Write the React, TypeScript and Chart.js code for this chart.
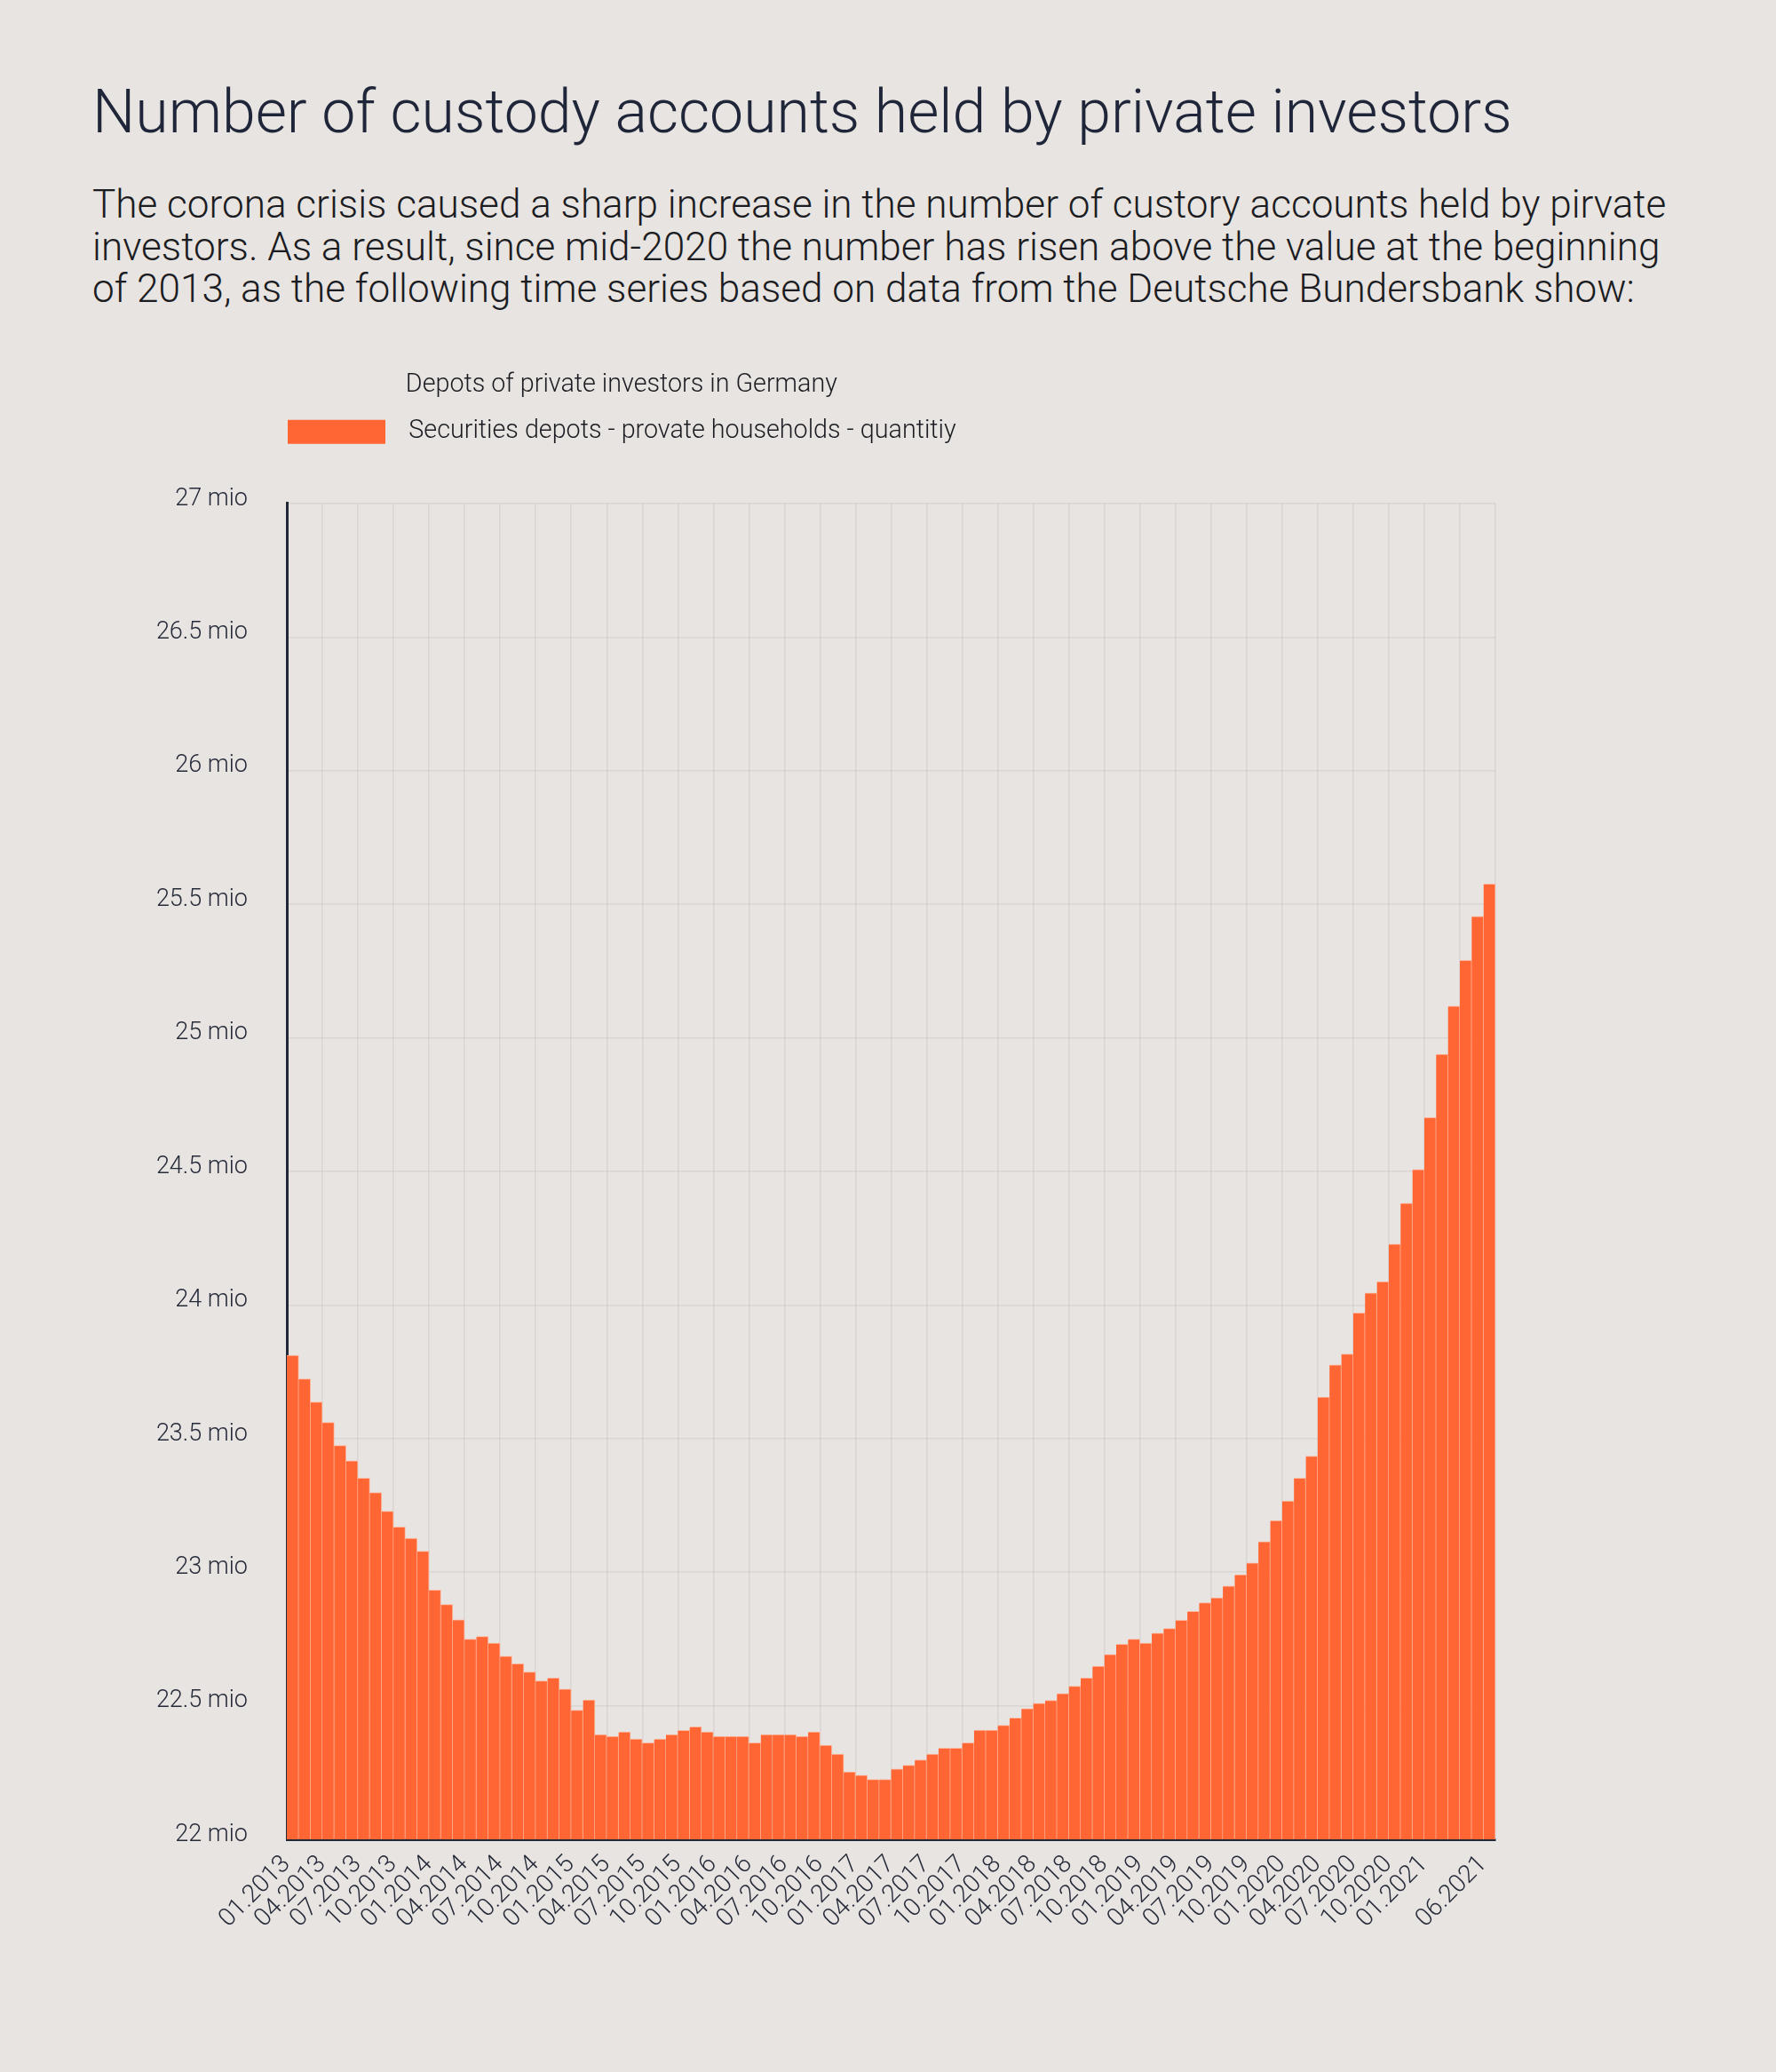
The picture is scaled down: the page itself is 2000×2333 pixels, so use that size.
import React, { useEffect, useRef } from 'react';
import { Chart, registerables } from 'chart.js';

Chart.register(...registerables);

// ---------------- data ----------------
const YEARS = [2013, 2014, 2015, 2016, 2017, 2018, 2019, 2020, 2021];
const MONTHS = ['01', '02', '03', '04', '05', '06', '07', '08', '09', '10', '11', '12'];
const LAST_MONTH_2021 = '06';

const CATEGORIES: string[] = [];
for (const y of YEARS) {
  for (const m of MONTHS) {
    CATEGORIES.push(`${m}.${y}`);
    if (y === 2021 && m === LAST_MONTH_2021) break;
  }
}

// Securities depots of private households, in millions
const DEPOTS_MIO = [
  23.811, 23.723, 23.637, 23.560, 23.474, 23.417, 23.352, 23.298, 23.228, 23.169, 23.127, 23.078, // 2013
  22.933, 22.879, 22.822, 22.749, 22.759, 22.734, 22.685, 22.657, 22.626, 22.593, 22.604, 22.562, // 2014
  22.483, 22.522, 22.392, 22.385, 22.402, 22.375, 22.361, 22.375, 22.392, 22.408, 22.421, 22.402, // 2015
  22.385, 22.385, 22.385, 22.361, 22.392, 22.392, 22.392, 22.385, 22.402, 22.352, 22.319, 22.252, // 2016
  22.240, 22.224, 22.224, 22.263, 22.277, 22.297, 22.319, 22.341, 22.341, 22.361, 22.409, 22.409, // 2017
  22.427, 22.454, 22.489, 22.509, 22.520, 22.546, 22.573, 22.604, 22.648, 22.692, 22.730, 22.749, // 2018
  22.734, 22.772, 22.789, 22.820, 22.853, 22.886, 22.904, 22.948, 22.990, 23.034, 23.114, 23.193, // 2019
  23.266, 23.352, 23.434, 23.655, 23.776, 23.816, 23.970, 24.045, 24.087, 24.228, 24.381, 24.507, // 2020
  24.701, 24.938, 25.119, 25.290, 25.454, 25.576, // 2021
];

const X_TICK_LABELS = [
  '01.2013', '04.2013', '07.2013', '10.2013',
  '01.2014', '04.2014', '07.2014', '10.2014',
  '01.2015', '04.2015', '07.2015', '10.2015',
  '01.2016', '04.2016', '07.2016', '10.2016',
  '01.2017', '04.2017', '07.2017', '10.2017',
  '01.2018', '04.2018', '07.2018', '10.2018',
  '01.2019', '04.2019', '07.2019', '10.2019',
  '01.2020', '04.2020', '07.2020', '10.2020',
  '01.2021', '06.2021',
];

const Y_MIN = 22;
const Y_MAX = 27;
const Y_STEP = 0.5;
const Y_UNIT = 'mio';

const TITLE = 'Number of custody accounts held by private investors';
const SUBTITLE_LINES = [
  'The corona crisis caused a sharp increase in the number of custory accounts held by pirvate',
  'investors. As a result, since mid-2020 the number has risen above the value at the beginning',
  'of 2013, as the following time series based on data from the Deutsche Bundersbank show:',
];
const LEGEND_TITLE = 'Depots of private investors in Germany';
const SERIES_LABEL = 'Securities depots - provate households - quantitiy';

// ---------------- style ----------------
const BG = '#E8E4E1';
const BAR = '#FF6633';
const BAR_EDGE = '#FFB59C';
const TITLE_COLOR = '#1F2639';
const TEXT_COLOR = '#1B1C22';
const AXIS_TEXT = '#262B3A';
const AXIS_LINE = '#232837';
const GRID = 'rgba(60,40,40,0.075)';
const FONT = 'Roboto, "Noto Sans", sans-serif';

const CANVAS_TOP = 370;
const CANVAS_W = 2000;
const CANVAS_H = 2333 - CANVAS_TOP;

const PAD_LEFT = 100;
const PLOT_LEFT = 323;
const LEGEND_BOX_W = 110;
const LEGEND_BOX_GAP = 12;
const LEGEND_FONT = 28.7;

export default function App() {
  const canvasRef = useRef<HTMLCanvasElement | null>(null);

  useEffect(() => {
    document.body.style.margin = '0';
    document.body.style.background = BG;
    const canvas = canvasRef.current;
    if (!canvas) return;
    const shown = new Set(X_TICK_LABELS);
    const ctx2d = canvas.getContext('2d')!;
    const boxX = PLOT_LEFT + 1;
    const grad = ctx2d.createLinearGradient(boxX, 0, boxX + LEGEND_BOX_W + LEGEND_BOX_GAP, 0);
    const stop = LEGEND_BOX_W / (LEGEND_BOX_W + LEGEND_BOX_GAP);
    grad.addColorStop(0, BAR);
    grad.addColorStop(stop, BAR);
    grad.addColorStop(Math.min(1, stop + 0.0001), 'rgba(0,0,0,0)');
    grad.addColorStop(1, 'rgba(0,0,0,0)');

    const chart = new Chart(canvas, {
      type: 'bar',
      data: {
        labels: CATEGORIES,
        datasets: [
          {
            label: SERIES_LABEL,
            data: DEPOTS_MIO,
            backgroundColor: BAR,
            borderColor: BAR_EDGE,
            borderWidth: { top: 1, right: 1, left: 0, bottom: 0 },
            barPercentage: 1,
            categoryPercentage: 1,
          },
        ],
      },
      options: {
        responsive: false,
        animation: false,
        events: [],
        layout: { padding: { left: PAD_LEFT, right: 316, top: 0, bottom: 0 } },
        plugins: {
          legend: {
            display: true,
            position: 'top',
            align: 'start',
            fullSize: false,
            title: {
              display: true,
              text: LEGEND_TITLE,
              color: TEXT_COLOR,
              font: { family: FONT, size: LEGEND_FONT, weight: '300' },
              padding: { top: 49.3, bottom: 17.2 },
            },
            labels: {
              boxWidth: LEGEND_BOX_W + LEGEND_BOX_GAP,
              boxHeight: 27,
              padding: 1,
              color: TEXT_COLOR,
              font: { family: FONT, size: LEGEND_FONT, weight: '300' },
              generateLabels: (chart: any) => {
                const items = (Chart.defaults.plugins.legend.labels as any).generateLabels(chart);
                items.forEach((it: any) => {
                  it.fillStyle = grad;
                  it.strokeStyle = 'rgba(0,0,0,0)';
                  it.lineWidth = 0;
                });
                return items;
              },
            },
          },
          subtitle: {
            display: true,
            text: '',
            weight: 500,
            font: { size: 1, lineHeight: 1 },
            padding: { top: 55.2, bottom: 0 },
          } as any,
          tooltip: { enabled: false },
        },
        scales: {
          x: {
            ticks: {
              autoSkip: false,
              minRotation: 45,
              maxRotation: 45,
              padding: 12,
              labelOffset: -7,
              color: AXIS_TEXT,
              font: { family: FONT, size: 28, weight: '300' },
              callback: (_v: any, i: number) => (shown.has(CATEGORIES[i]) ? CATEGORIES[i] : ''),
            },
            grid: {
              offset: true,
              drawTicks: false,
              lineWidth: 1.5,
              color: (ctx: any) =>
                ctx.index === undefined || ctx.index % 3 === 0 ? GRID : 'rgba(0,0,0,0)',
            },
            border: { display: true, color: AXIS_LINE, width: 3 },
            afterFit: (scale: any) => {
              scale.height = 262;
            },
          },
          y: {
            min: Y_MIN,
            max: Y_MAX,
            ticks: {
              stepSize: Y_STEP,
              padding: 44,
              labelOffset: -5,
              color: AXIS_TEXT,
              font: { family: FONT, size: 27, weight: '300' },
              callback: (v: any) => `${v} ${Y_UNIT}`,
            },
            grid: { drawTicks: false, color: GRID, lineWidth: 1.5 },
            border: { display: true, color: AXIS_LINE, width: 3 },
            afterFit: (scale: any) => {
              scale.width = PLOT_LEFT - PAD_LEFT;
            },
          },
        },
      } as any,
    });
    return () => chart.destroy();
  }, []);

  return (
    <div style={{ position: 'relative', width: 2000, height: 2333, background: BG, overflow: 'hidden' }}>
      <div
        style={{
          position: 'absolute',
          left: 104,
          top: 92,
          fontFamily: FONT,
          fontWeight: 300,
          fontSize: 68,
          lineHeight: '68px',
          color: TITLE_COLOR,
          whiteSpace: 'nowrap',
        }}
      >
        {TITLE}
      </div>
      <div
        style={{
          position: 'absolute',
          left: 104,
          top: 207,
          fontFamily: FONT,
          fontWeight: 300,
          fontSize: 44.1,
          lineHeight: '47.6px',
          color: TEXT_COLOR,
          whiteSpace: 'nowrap',
        }}
      >
        {SUBTITLE_LINES.map((l) => (
          <div key={l}>{l}</div>
        ))}
      </div>
      <canvas
        ref={canvasRef}
        width={CANVAS_W}
        height={CANVAS_H}
        style={{ position: 'absolute', left: 0, top: CANVAS_TOP, width: CANVAS_W, height: CANVAS_H }}
      />
    </div>
  );
}
